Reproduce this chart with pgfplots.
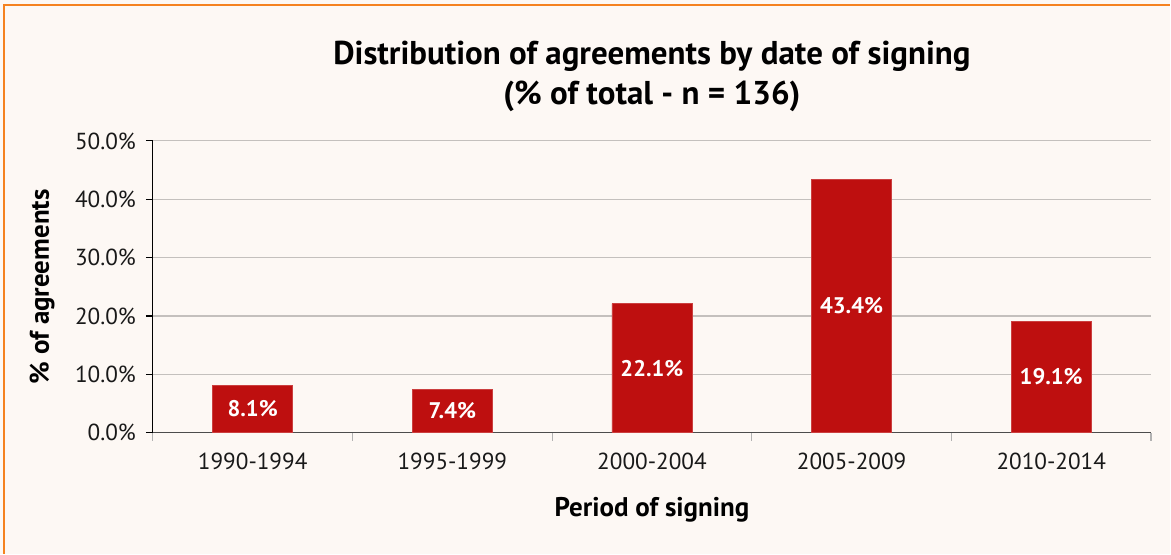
\documentclass[border=0pt]{standalone}
\usepackage{pgfplots}
\pgfplotsset{compat=1.18}
\usepackage{fontspec}
\setmainfont{PT Sans}
\definecolor{barred}{HTML}{BE0F0F}
\definecolor{bgcream}{HTML}{FDF8F4}
\definecolor{frameorange}{HTML}{F58220}
\definecolor{gridgray}{HTML}{C4C0BD}
\begin{document}
\begin{tikzpicture}[x=1pt,y=1pt]
  % page = 1171 x 554 px at 0.5pt per px
  \fill[bgcream] (0,0) rectangle (585.5,277);
  \draw[frameorange, line width=1pt] (2,0) -- (2,274.5) -- (585.5,274.5);
  \useasboundingbox (0,0) rectangle (585.5,277);
  \begin{axis}[
      at={(76.5pt,60.5pt)}, anchor=south west,
      scale only axis, width=499.5pt, height=146pt,
      xmin=-0.5, xmax=4.5, ymin=0, ymax=50,
      axis x line*=bottom, axis y line*=left,
      x axis line style={draw=black!70, line width=0.8pt},
      y axis line style={draw=black, line width=0.6pt},
      xtick={0,...,4},
      xticklabels={1990-1994,1995-1999,2000-2004,2005-2009,2010-2014},
      major x tick style={draw=none},
      minor xtick={-0.5,0.5,...,4.5},
      minor x tick style={draw=black!30, line width=0.6pt},
      minor tick length=4pt,
      ytick={0,10,...,50},
      major y tick style={draw=black, line width=0.6pt},
      major tick length=3.5pt,
      tick align=outside,
      ymajorgrids, grid style={draw=gridgray, line width=0.6pt},
      yticklabel={\pgfmathprintnumber[fixed,fixed zerofill,precision=1]{\tick}\%},
      /pgf/number format/assume math mode=true,
      tick label style={font=\fontsize{11.6}{13}\selectfont, text=black!90},
      xticklabel style={yshift=-3pt},
      yticklabel style={xshift=-1.5pt},
      xlabel={\textbf{Period of signing}},
      xlabel style={font=\fontsize{13.5}{15}\selectfont, at={(axis description cs:0.5,-0.264)}, anchor=center},
      ylabel={\textbf{\% of agreements}},
      ylabel style={font=\fontsize{13.5}{15}\selectfont, at={(axis description cs:-0.111,0.5)}, anchor=center},
      title={\textbf{Distribution of agreements by date of signing}\\\textbf{(\% of total - n = 136)}},
      title style={font=\fontsize{16.5}{20}\selectfont, align=center, yshift=5pt},
      clip=false,
    ]
    \addplot[ybar, bar width=40pt, fill=barred, draw=barred!80!white,
      visualization depends on={y \as \rawy},
      nodes near coords={\pgfmathprintnumber[fixed,fixed zerofill,precision=1]{\pgfplotspointmeta}\%},
      every node near coord/.append style={anchor=center, text=white,
        font=\bfseries\fontsize{11.3}{13}\selectfont,
        shift={(axis direction cs:0,-\rawy/2)}},
      /pgf/number format/assume math mode=true,
    ] coordinates {
      (0,8.1) (1,7.4) (2,22.1) (3,43.4) (4,19.1)
    };
  \end{axis}
\end{tikzpicture}
\end{document}
